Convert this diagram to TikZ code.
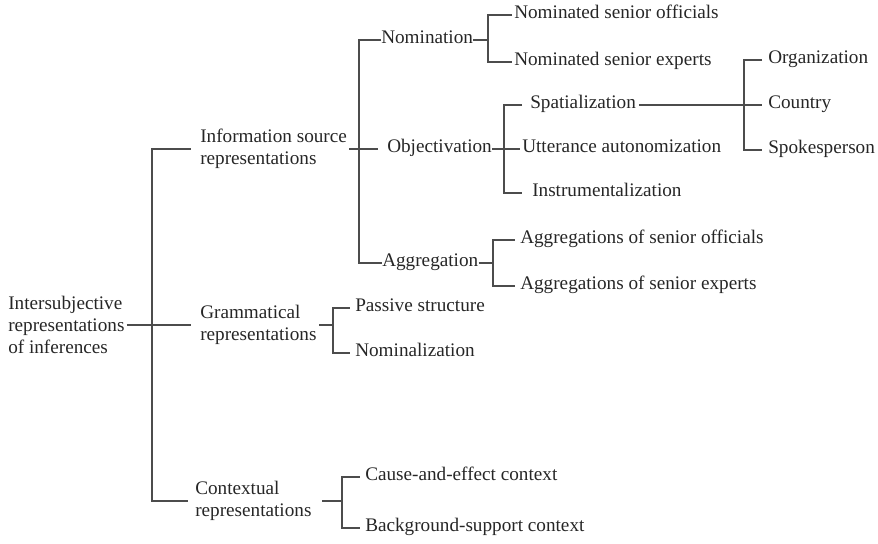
\documentclass[tikz,border=0pt]{standalone}
\usepackage{fontspec}
\setmainfont{Liberation Serif}
\usetikzlibrary{positioning}

\begin{document}
\begin{tikzpicture}[x=0.75pt,y=-0.75pt,
	lbl/.style={anchor=west,inner sep=0pt,align=left,text=black!85,
		font=\fontsize{14.4}{16.5}\selectfont},
	leaf/.style={lbl,text height=0.68em,text depth=0.22em},
	conn/.style={draw=black!70,line width=0.8pt}]

		\useasboundingbox (0,0) rectangle (878,543);

		% first and second level
		\node[lbl] (root) at (8,325) {Intersubjective\\representations\\of inferences};
		\node[lbl] (isr) at (200,149) {Information source\\representations};
		\node[lbl] (gr) at (200,325) {Grammatical\\representations};
		\node[lbl] (cr) at (195,501) {Contextual\\representations};

		% information source
		\node[leaf] (nom) at (381,40) {Nomination};
		\node[leaf] (obj) at (387,149) {Objectivation};
		\node[leaf] (agg) at (382,263) {Aggregation};

		\node[leaf] (nso) at (514,15) {Nominated senior officials};
		\node[leaf] (nse) at (514,62) {Nominated senior experts};

		\node[leaf] (spa) at (530,105) {Spatialization};
		\node[leaf] (utt) at (522,149) {Utterance autonomization};
		\node[leaf] (ins) at (532,193) {Instrumentalization};

		\node[leaf] (org) at (768,60) {Organization};
		\node[leaf] (cty) at (768,105) {Country};
		\node[leaf] (spk) at (768,150) {Spokesperson};

		\node[leaf] (aso) at (520,240) {Aggregations of senior officials};
		\node[leaf] (ase) at (520,286) {Aggregations of senior experts};

		% grammatical and contextual
		\node[leaf] (ps) at (355,308) {Passive structure};
		\node[leaf] (nmz) at (355,353) {Nominalization};

		\node[leaf] (cae) at (365,477) {Cause-and-effect context};
		\node[leaf] (bsc) at (365,528) {Background-support context};

		% junctions
		\coordinate (rootj) at (152,325);
		\coordinate (isrj) at (359,149);
		\coordinate (nomj) at (488,40);
		\coordinate (objj) at (504,149);
		\coordinate (spaj) at (744,105);
		\coordinate (aggj) at (493,263);
		\coordinate (grj) at (333,325);
		\coordinate (crj) at (342,501);

		% brackets
		\draw[conn,shorten <=1.5pt,shorten >=7pt] (root.east) -- (gr.west);
		\draw[conn,shorten <=7pt,shorten >=5pt] (isr.west) -| (rootj) |- (cr.west);

		\draw[conn,shorten <=1.5pt,shorten >=7pt] (isr.east) -- (obj.west);
		\draw[conn] (nom.west) -| (isrj) |- (agg.west);

		\draw[conn] (nom.east) -- (nomj);
		\draw[conn,shorten <=1.5pt,shorten >=1.5pt] (nso.west) -| (nomj) |- (nse.west);

		\draw[conn,shorten >=1.5pt] (obj.east) -- (utt.west);
		\draw[conn,shorten <=6pt,shorten >=7.5pt] (spa.west) -| (objj) |- (ins.west);

		\draw[conn,shorten <=2pt,shorten >=4.5pt] (spa.east) -- (cty.west);
		\draw[conn,shorten <=4.5pt,shorten >=4.5pt] (org.west) -| (spaj) |- (spk.west);

		\draw[conn] (agg.east) -- (aggj);
		\draw[conn,shorten <=4pt,shorten >=4pt] (aso.west) -| (aggj) |- (ase.west);

		\draw[conn,shorten <=2pt] (gr.east) -- (grj);
		\draw[conn,shorten <=4pt,shorten >=4pt] (ps.west) -| (grj) |- (nmz.west);

		\draw[conn,shorten <=8pt] (cr.east) -- (crj);
		\draw[conn,shorten <=4pt,shorten >=4pt] (cae.west) -| (crj) |- (bsc.west);

\end{tikzpicture}
\end{document}
